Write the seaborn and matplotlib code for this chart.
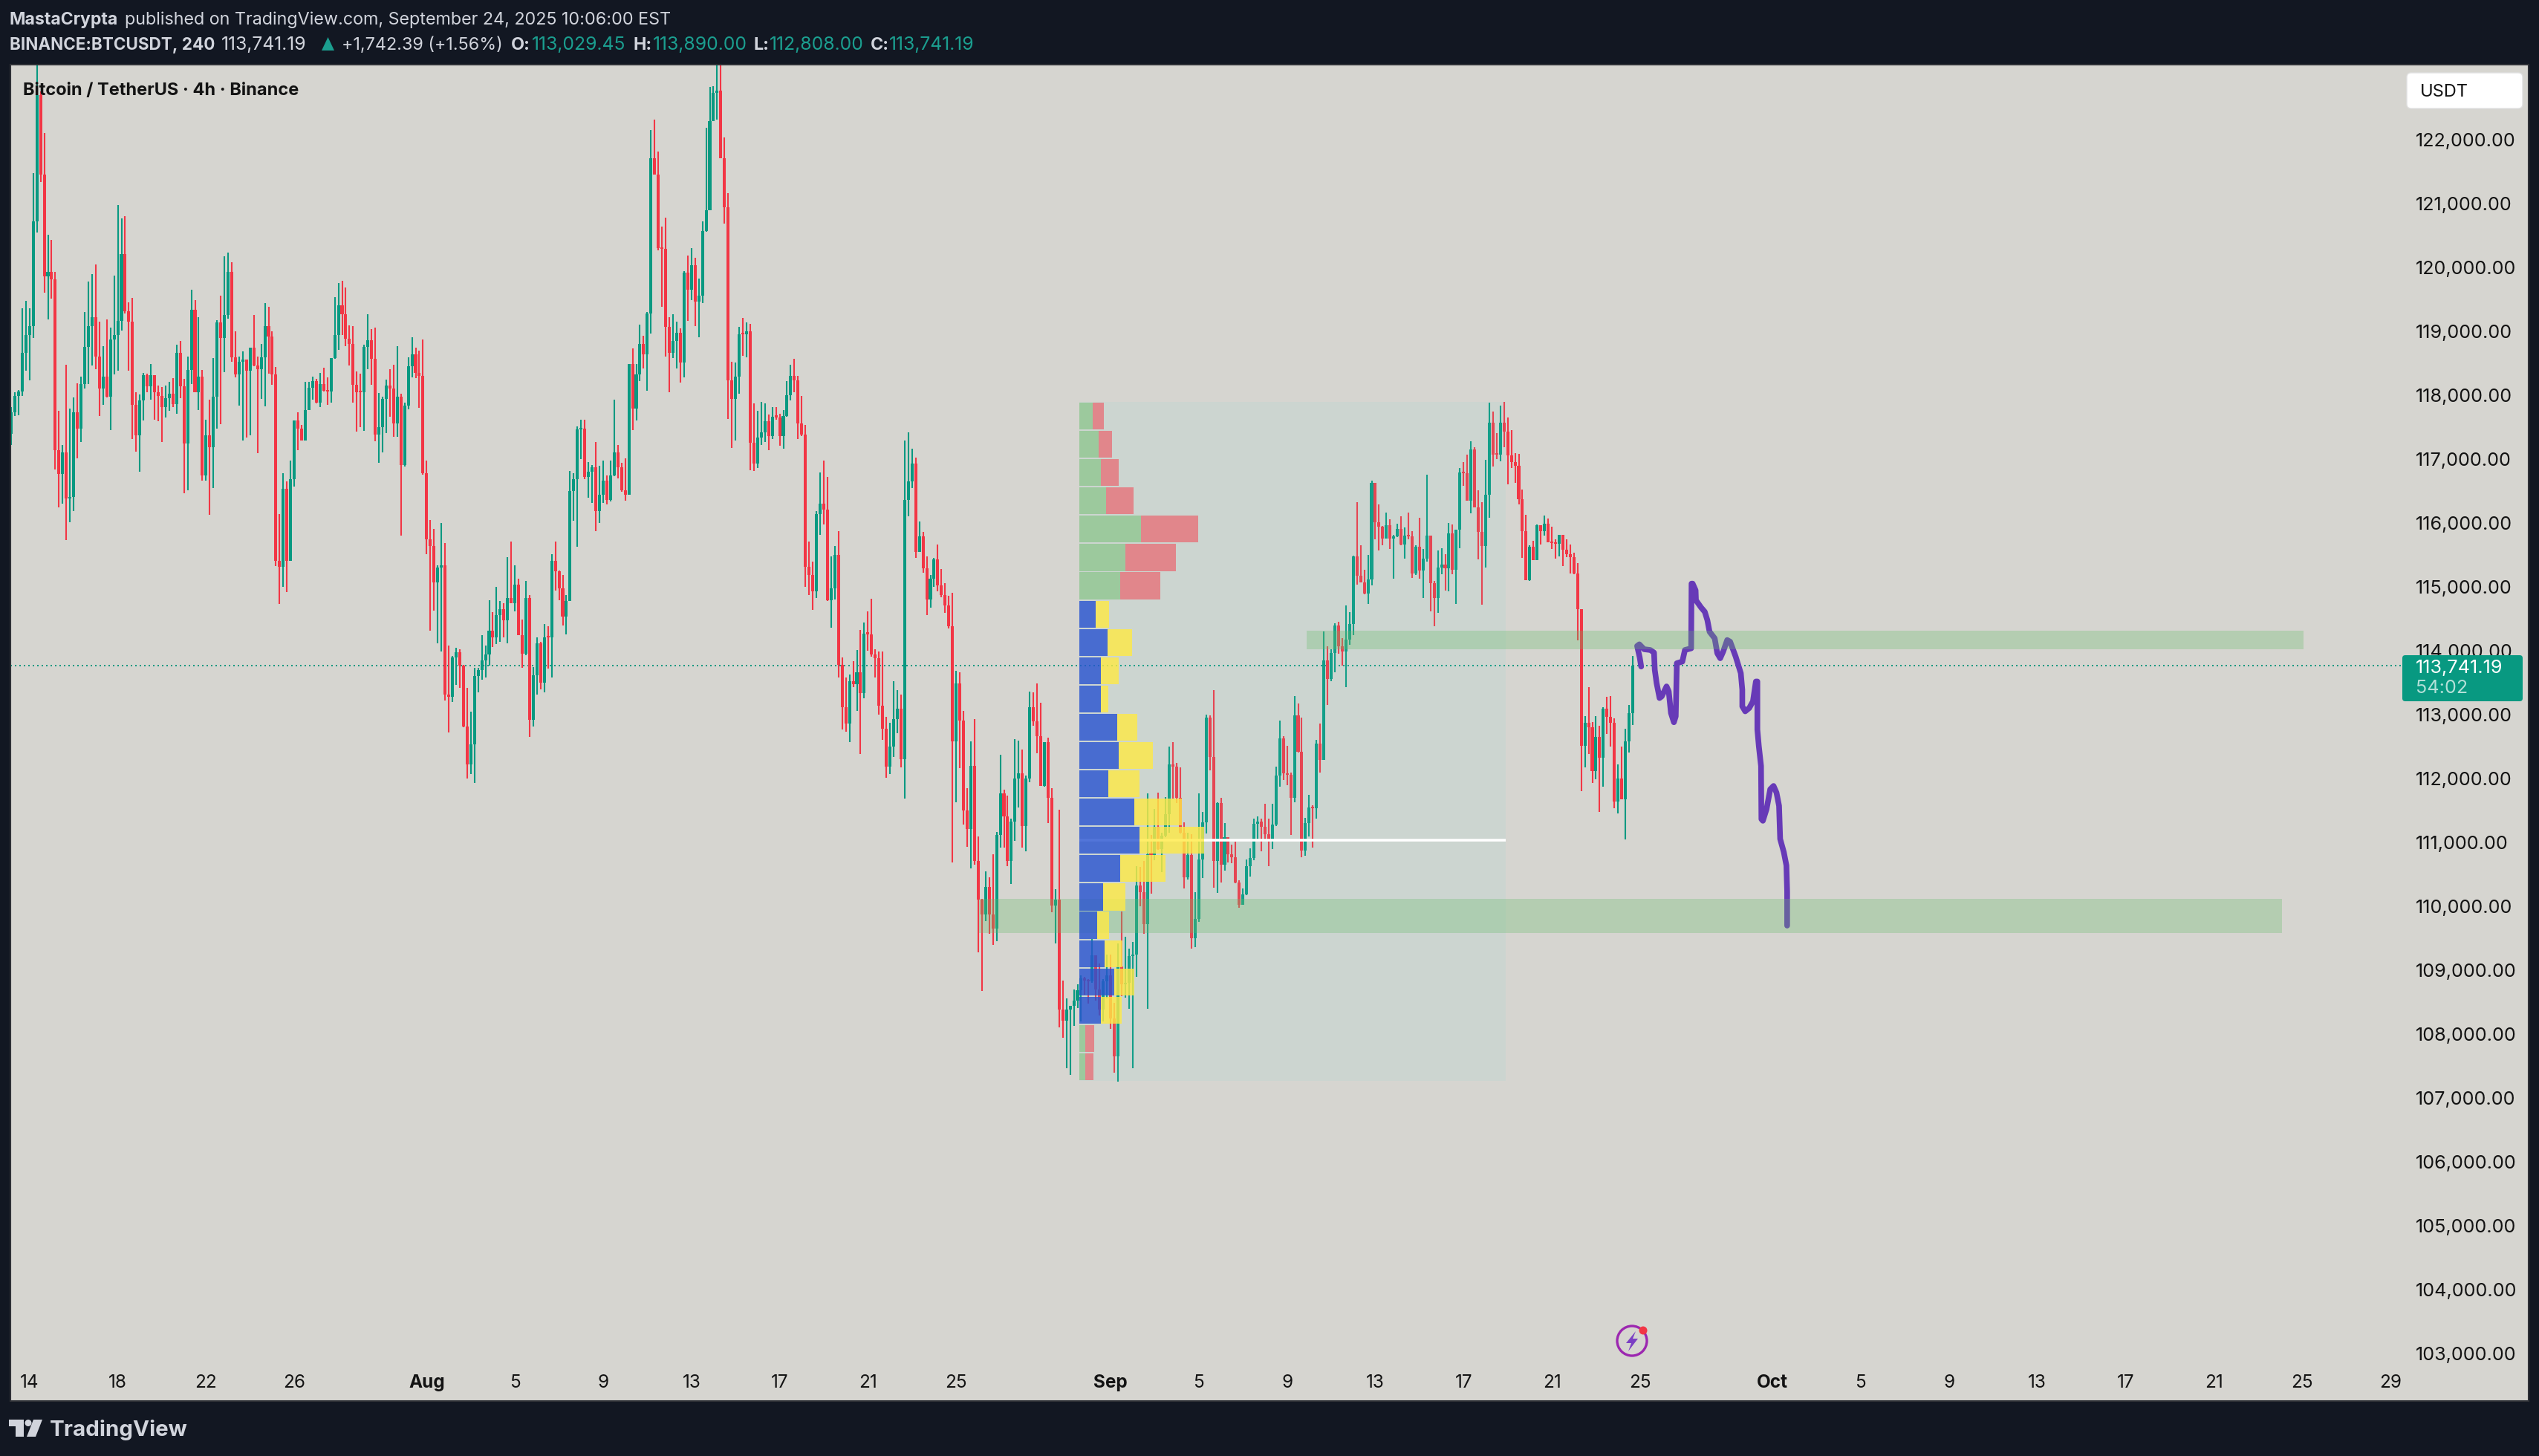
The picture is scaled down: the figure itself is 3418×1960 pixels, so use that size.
import matplotlib
matplotlib.use("Agg")
import matplotlib.pyplot as plt
import seaborn as sns
import numpy as np
import pandas as pd
from matplotlib.patches import Rectangle, Polygon, Ellipse, FancyBboxPatch
from matplotlib.transforms import Affine2D

# ---------- data ----------
first_open = 117377
closes = [
117714,117965,118037,118639,118924,119054,120702,122669,121425,119840,119907,119791,117112,116740,117078,116355,116379,117714,117449,118153,
118731,119054,119199,118582,118080,118273,117955,118847,118924,119136,120187,119285,119126,117825,117343,117897,118292,118114,118292,118018,
117970,117791,117931,117994,117839,118639,118114,117222,118369,119319,118027,118273,116726,117343,117165,117955,119117,118871,119237,119912,
118572,118307,118500,118533,118355,118717,118442,118379,118572,119054,118900,118307,115384,115290,116509,115384,116668,117584,117449,117271,
117743,118091,118197,117866,118148,118042,118035,118556,118923,119381,119240,118866,118782,118134,118028,118021,118733,118838,118542,117359,
117478,117915,118127,118084,117535,117957,116879,117809,118430,118620,118324,118275,116752,115724,115611,115047,115279,115315,113285,113257,
113877,113948,113743,112792,112193,112510,113581,113673,113828,113919,114286,114180,114540,114624,114448,114800,114723,115012,114215,113933,
114800,112890,113588,114096,113476,114187,114180,115378,115223,114955,114511,114751,116478,116661,117436,117450,116703,116780,116844,116164,
116413,116641,116335,116719,117083,116849,116491,116418,118463,117768,118297,118780,118619,119258,121683,121434,120277,120265,119049,118645,
118822,118951,118484,119891,119624,120010,119446,119535,120544,120870,122265,122709,122739,121683,120918,118212,117913,118266,118931,118925,
118977,117238,116901,117316,117394,117571,117342,117638,117633,117342,117654,117975,118282,118204,117529,117363,115287,115167,114907,116117,
116278,116190,114767,114954,115479,113750,113096,112836,113501,113449,113641,113314,114243,114238,113917,113857,113116,112756,112162,112475,
112909,113069,112282,116340,116627,116908,115526,115766,115266,114778,115105,115406,114999,114852,114685,114358,112555,113463,112883,111474,
111187,112175,110686,110079,109845,110279,109845,109632,111094,111741,111381,110686,111301,111975,112055,111234,111975,113089,112869,112642,
111861,112549,111674,109986,110079,108357,108183,108357,108417,108497,108664,108851,108811,108804,109211,108671,108357,108804,108897,108223,
107629,109035,108759,108777,109195,109222,110303,110201,109703,110793,110784,111216,110873,111082,111416,112195,112163,111669,111127,110428,
110784,109480,109778,110704,111287,112929,112319,110690,111594,110633,111060,110788,110744,110348,110001,110161,110606,110730,111269,111300,
111220,111104,111015,111255,112021,112604,112061,112034,111674,112964,112395,110846,111273,111522,111514,112519,112266,113826,113537,113937,
114366,114043,113961,114149,114395,115455,115152,115046,114872,115094,116603,115990,115918,115730,115942,115730,115769,115884,115634,115778,
115769,115185,115605,115234,115417,115778,115036,114800,115277,115325,115267,115812,115243,115870,116766,116757,116328,117128,116222,115836,
115614,116419,117547,117046,117041,117547,117407,117036,116930,116872,116347,115851,115079,115605,115390,115946,115847,115961,115670,115660,
115650,115790,115556,115484,115447,115183,114627,112493,112846,112784,112089,112623,112307,113075,112940,112846,111616,111974,111653,112556,
113002,113741]
highs = [
117791,118018,118056,119334,119449,119334,121454,123300,122727,122081,120486,120404,119907,117729,117198,118451,117762,117936,118162,118268,
119281,119753,119873,120018,119126,118741,119165,119035,119849,120958,120741,120780,119430,119502,118018,117984,118331,118317,118466,118292,
118124,118100,118129,118186,118244,118765,118828,118235,118582,119632,119464,119199,118369,117598,117912,118558,119150,119536,120153,120211,
120057,118977,118582,118668,118533,118717,119237,118582,118775,119415,119358,118972,118413,116114,116750,116630,116957,117584,117714,117511,
118186,118183,118267,118232,118324,118408,118253,118556,119508,119733,119768,119663,119071,119057,118345,118310,118768,119240,119014,119036,
118014,117957,118218,118380,118450,118747,117999,117866,118570,118880,118725,118676,118845,116950,116020,115879,115315,115977,115660,114060,
113891,114025,114004,113750,113391,113024,113708,113708,114222,114060,114765,114582,114977,114751,114715,115442,115681,115315,115103,114469,
115068,114850,113722,114187,114117,114392,114364,115484,115681,115230,115160,114850,116795,116752,117485,117591,117591,116935,116879,117244,
116875,116953,116719,116953,117908,117202,116916,116989,118463,118707,118463,119081,118910,119278,122128,122294,121790,120621,120751,119200,
119242,119128,119019,119921,120158,120277,120129,119802,120692,122158,122798,122810,123300,123300,122009,121137,118500,118489,119045,119185,
119117,119092,117851,117731,117872,117851,117674,117789,117789,117685,117747,118199,118453,118546,118282,117965,117513,115686,115375,116164,
116766,116953,116698,115453,115619,115847,113875,113558,113605,113812,113989,114300,114420,114591,114792,114004,113964,113964,112943,112849,
113497,113363,113290,117268,117395,117141,116994,115999,115840,115452,115165,115432,115639,115259,115032,114838,114885,113664,113637,113036,
111828,112555,112909,111067,110092,110520,110433,110793,111140,112348,111801,111708,111347,112596,112569,112429,112021,113336,113323,113463,
113163,112549,112616,111828,110246,111487,108811,108537,108417,108671,108757,108897,108877,108831,109465,109211,109078,108837,109218,109218,
108464,109400,109894,109498,109315,109418,110601,110593,110682,111745,111091,111505,111750,111127,111687,112475,112546,112217,112150,111291,
111127,111104,110201,111745,111451,112978,112964,113360,111603,111674,111273,111060,110940,110993,110383,110254,110708,110882,111349,111385,
111349,111580,111349,111580,112163,112889,112635,112488,112074,113267,113151,112929,111358,111718,111558,112582,112835,114284,114043,113995,
114405,114429,114173,114684,114583,115465,116304,115629,115243,115475,116641,116603,116265,115928,116140,116034,115793,115966,116082,115908,
116140,115851,115629,116058,115571,116733,115778,115070,115547,115581,115489,115971,115952,115870,116839,116930,117046,117253,117162,116487,
116304,116964,117861,117721,117383,117812,117870,117629,117432,117070,117056,116501,116106,115629,115696,115951,115946,116091,116044,115920,
115717,115790,115790,115722,115639,115509,115349,114627,112950,113402,112857,112950,112805,113096,113251,113262,112924,112193,112473,112753,
113132,113890]
lows = [
117198,117656,117666,117960,118355,118211,118876,120524,121319,119584,119165,119488,116813,116220,116273,115714,115993,116162,116991,117247,
118080,118153,118442,118389,117656,117825,117945,117425,118307,118355,118991,119257,118365,117285,117092,116779,117584,118018,117907,117598,
117569,117247,117622,117738,117791,117690,117931,116442,116490,118153,118027,117743,116644,116634,116099,116523,117454,117521,118341,119175,
118500,118259,117815,117271,117309,117353,118427,117068,117921,117801,118317,118138,115302,114709,114977,114895,115430,116548,117112,117271,
117271,117739,117901,117845,117795,118035,117831,117866,118549,118683,118923,118747,118443,117866,117401,117471,117422,118387,118134,117253,
116921,117076,117386,117640,117330,117330,115773,116858,117760,118260,118246,117781,116738,115484,114293,114610,114096,113969,113201,112700,
113179,113440,113398,112778,111977,112046,111907,113320,113518,113553,113743,114032,114081,114117,114180,114096,114716,114589,114215,113708,
113912,112630,112785,113285,113370,113320,113694,113553,114920,114765,114370,114230,114751,116012,115604,116978,116661,116372,116287,115847,
115977,116294,116268,116314,116709,116672,116465,116325,116418,117430,117581,118199,118396,118048,118941,121434,120247,119357,118578,118022,
118562,118396,118173,118254,119138,119464,119061,118883,119416,120532,120870,122265,122294,121683,120663,117607,117150,117269,118001,118593,
118572,116802,116787,116839,117197,117244,117119,117290,117591,117186,117140,117643,117898,118022,117290,117342,114975,114850,114617,114804,
115790,115956,114757,114336,114778,113558,112743,112712,112546,113407,113034,112359,113231,113978,113884,113557,112976,112582,111988,112048,
112315,112682,112148,111661,116080,116520,115432,115526,115199,114538,114651,114978,114905,114812,114571,114324,110660,111601,112142,111254,
110907,110566,110626,109258,108651,109745,109545,109372,109431,110893,110893,110606,110326,111000,111521,110893,110833,111921,112802,112369,
111861,111848,111280,109885,109392,108083,107916,107442,107336,108103,108384,108177,108590,108450,108777,108497,108270,108170,108537,108057,
107369,107233,108568,108546,108376,107442,108866,109978,109547,108376,110179,110699,110860,110512,111060,111127,111661,111594,111118,110254,
110397,109315,109338,109734,110419,111118,112106,110268,110188,110348,110535,110664,110650,110339,109952,110001,110152,110441,110695,111015,
110837,111015,110606,110873,111233,111847,111954,111870,111091,111603,112381,110744,110766,111069,110895,111349,112070,112269,113127,113498,
113638,113932,113744,113407,114072,114221,115012,115046,114862,114708,115002,115720,115547,115629,115730,115571,115104,115754,115629,115417,
115720,115118,115161,115104,114800,115373,114593,114361,114568,115176,114920,114906,115176,114708,115581,116559,116328,116125,116222,115407,
114699,115277,116058,116858,116978,116940,117162,116583,116839,116603,116265,115431,115079,115070,115390,115390,115639,115779,115670,115572,
115421,115452,115302,115442,115188,115172,114134,111777,112156,112364,111907,111959,111455,111850,112670,112478,111512,111429,111653,111024,
112385,112808]

last_price = 113741.19
poc_price = 111007
range_top = 117872
range_bottom = 107244
band_upper = (114291, 114000)
band_lower = (110093, 109558)

# volume profile rows, top to bottom
profile_up = [25,37,42,52,118,89,78,31,54,42,41,72,75,55,105,115,79,45,34,48,67,41,12,12]
profile_down = [22,25,33,52,110,96,77,26,47,33,14,39,66,60,91,124,86,44,23,34,38,40,16,15]

# hand-drawn forecast path: bar number, price
path_bar = [443.3,442.9,442.2,442.8,444.1,445.8,446.8,447.0,447.5,448.3,448.9,450.2,450.8,451.4,452.2,452.7,453.0,454.5,455.2,456.9,
457.0,457.3,458.1,458.2,459.6,460.6,461.3,461.9,463.3,464.0,464.8,465.6,466.7,467.5,469.0,470.4,470.8,470.8,471.6,472.7,473.7,474.5,474.9,
474.9,475.3,475.9,476.0,476.4,477.4,478.4,479.3,480.1,480.8,481.1,482.1,482.8,483.0,483.0]
path_price = [113729,113874,114051,114077,114000,113988,113947,113677,113469,113236,113262,113418,113340,113002,112857,112950,113781,113807,113988,114014,
115027,115027,114923,114767,114653,114586,114456,114274,114170,113937,113859,113963,114144,114118,113885,113625,113366,113106,113028,113080,113184,113495,113495,
112743,112483,112172,111341,111315,111497,111808,111860,111756,111549,111030,110822,110615,110209,109674]

y_ticks = list(range(103000, 123000, 1000))
x_tick_bars = [5,29,53,77,113,137,161,185,209,233,257,299,323,347,371,395,419,443,479,503,527,551,575,599,623,647]
x_tick_labels = ["14","18","22","26","Aug","5","9","13","17","21","25","Sep","5","9","13","17","21","25","Oct","5","9","13","17","21","25","29"]

# ---------- styling ----------
W, H = 3418, 1960
BG = "#d6d5d0"
DARK = "#121722"
GREEN = "#089981"
RED = "#f23645"
LIGHT = "#d1d4dc"
TEAL = "#1b9e8f"
INK = "#131313"
PURPLE = "#673ab7"

sns.set_theme(style="white")
plt.rcParams["font.family"] = ["Inter", "Roboto", "DejaVu Sans"]

fig = plt.figure(figsize=(W / 100, H / 100), dpi=100, facecolor=DARK)
L_, R_, T_, B_ = 14, 3404, 87, 1886
ax = fig.add_axes([L_ / W, 1 - B_ / H, (R_ - L_) / W, (B_ - T_) / H])
ax.set_facecolor(BG)
ax.set_axisbelow(True)

bar_step = 4.95
def bar_of(px):
    return (px - 15) / bar_step

ax.set_xlim(bar_of(L_), bar_of(R_))
ax.set_ylim(102232, 123151)
ax.grid(False)

# ---------- candles ----------
c = np.array(closes, dtype=float)
o = np.concatenate([[first_open], c[:-1]])
df = pd.DataFrame({"bar": np.arange(len(c)), "open": o, "close": c,
                   "high": highs, "low": lows})
df["color"] = np.where(df.close >= df.open, GREEN, RED)
df["base"] = df[["open", "close"]].min(axis=1)
df["size"] = (df.close - df.open).abs().clip(lower=25)

ax.hlines(last_price, bar_of(L_), bar_of(3234), color=GREEN, lw=1.44,
          linestyles=[(0, (1.0, 2.0))], zorder=1.5)
ax.vlines(df.bar, df.low, df.high, colors=df.color, lw=1.5, zorder=2)
ax.bar(df.bar, df["size"], bottom=df.base, width=0.82, color=df.color, linewidth=0, zorder=2.1)

# ---------- forecast path ----------
sns.lineplot(x=path_bar, y=path_price, sort=False, estimator=None, ax=ax, color=PURPLE,
             linewidth=5.5, solid_capstyle="round", solid_joinstyle="round", zorder=2.5)

# ---------- fixed range ----------
ax.add_patch(Rectangle((bar_of(1453), range_bottom), bar_of(2027) - bar_of(1453), range_top - range_bottom,
                       facecolor="#78d5d0", alpha=0.1, linewidth=0, zorder=3))
ax.hlines(poc_price, bar_of(1453), bar_of(2027), color="white", lw=2.6, zorder=3.5)

# ---------- supply / demand bands ----------
ax.add_patch(Rectangle((bar_of(1759), band_upper[1]), bar_of(3101) - bar_of(1759), band_upper[0] - band_upper[1],
                       facecolor="#68bb6b", alpha=0.3, linewidth=0, zorder=4))
ax.add_patch(Rectangle((bar_of(1318), band_lower[1]), bar_of(3072) - bar_of(1318), band_lower[0] - band_lower[1],
                       facecolor="#68bb6b", alpha=0.3, linewidth=0, zorder=4))

# ---------- volume profile ----------
n_rows = len(profile_up)
edges = np.linspace(range_top, range_bottom, n_rows + 1)
row_h = (range_top - range_bottom) / n_rows
centers = (edges[:-1] + edges[1:]) / 2
in_value_area = [7 <= i <= 21 for i in range(n_rows)]
vol_unit = 1 / (1.425 * bar_step)
x0 = bar_of(1453)
up_w = np.array(profile_up) * vol_unit
dn_w = np.array(profile_down) * vol_unit
ax.barh(centers, up_w, left=x0, height=row_h * 0.95, linewidth=0, alpha=0.8, zorder=5,
        color=["#2752d0" if v else "#90c791" for v in in_value_area])
ax.barh(centers, dn_w, left=x0 + up_w, height=row_h * 0.95, linewidth=0, alpha=0.8, zorder=5,
        color=["#ffea44" if v else "#e7737a" for v in in_value_area])

# ---------- axes ----------
ax.yaxis.tick_right()
ax.set_yticks(y_ticks)
ax.set_yticklabels([f"{v:,.2f}" for v in y_ticks], fontsize=18.1, color=INK)
ax.tick_params(axis="y", direction="in", length=0, pad=-(R_ - 3252) * 0.72)
for lab in ax.get_yticklabels():
    lab.set_transform(lab.get_transform() + Affine2D().translate(0, -2))
ax.set_xticks(x_tick_bars)
ax.set_xticklabels(x_tick_labels, fontsize=17.5, color=INK)
ax.tick_params(axis="x", direction="in", length=0, pad=-26)
for lab in ax.get_xticklabels():
    if lab.get_text() in ("Aug", "Sep", "Oct"):
        lab.set_fontweight("bold")
for s in ax.spines.values():
    s.set_color("#2e3036")
    s.set_linewidth(1.5)

# ---------- chrome in pixel coordinates ----------
px = Affine2D().scale(1, -1).translate(0, H)

def label(x, y, s, size=16.8, color=LIGHT, weight="normal", ha="left", z=6):
    fig.text(x, y, s, transform=px, fontsize=size, color=color, fontweight=weight,
             ha=ha, va="center", zorder=z)

label(13, 26.5, "MastaCrypta", size=16.6, weight="bold")
label(168, 26.5, "published on TradingView.com, September 24, 2025 10:06:00 EST")
label(13, 60.5, "BINANCE:BTCUSDT, 240", size=16.2, weight="bold")
label(298, 60.5, "113,741.19", size=17.8)
fig.add_artist(Polygon([(433, 68), (441.5, 50), (450, 68)], closed=True, transform=px,
                       facecolor=TEAL, edgecolor="none"))
label(460, 60.5, "+1,742.39 (+1.56%)")
for xa, ta, xb, tb in [(688, "O:", 716, "113,029.45"), (852, "H:", 879, "113,890.00"),
                       (1015, "L:", 1036, "112,808.00"), (1172, "C:", 1197, "113,741.19")]:
    label(xa, 60.5, ta, weight="bold")
    label(xb, 60.5, tb, size=17.8, color=TEAL)

label(31, 121.5, "Bitcoin / TetherUS · 4h · Binance", size=17, color=INK, weight="bold")

# price tag
fig.add_artist(FancyBboxPatch((3236, 884), 158, 58, boxstyle="round,pad=2,rounding_size=4",
                              transform=px, facecolor=GREEN, edgecolor="none", zorder=2))
label(3252, 899, "113,741.19", size=18.1, color="white")
label(3252, 926, "54:02", size=18.1, color="#b3e0d8")

# currency button
fig.add_artist(FancyBboxPatch((3242, 100), 152, 44, boxstyle="round,pad=2,rounding_size=6",
                              transform=px, facecolor="white", edgecolor="#e0e0e0", zorder=2))
label(3258, 123.5, "USDT", size=17, color=INK)

# news icon
fig.add_artist(Ellipse((2197, 1805), 40, 40, transform=px, facecolor=BG, edgecolor="#9c27b0", lw=2.4, zorder=2))
fig.add_artist(Polygon([(2202, 1792), (2189, 1808), (2196, 1808), (2192, 1819), (2205, 1802), (2198, 1802)],
                       closed=True, transform=px, facecolor="#7b3fc4", edgecolor="none", zorder=2))
fig.add_artist(Ellipse((2212, 1791), 11, 11, transform=px, facecolor="#f23645", edgecolor="none", zorder=2))

# TradingView logo
fig.add_artist(Polygon([(12, 1911), (32, 1911), (32, 1934), (21, 1934), (21, 1920), (12, 1920)],
                       closed=True, transform=px, facecolor=LIGHT, edgecolor="none"))
fig.add_artist(Ellipse((38, 1915.5), 9, 9, transform=px, facecolor=LIGHT, edgecolor="none"))
fig.add_artist(Polygon([(45, 1911), (57, 1911), (48, 1934), (36, 1934)],
                       closed=True, transform=px, facecolor=LIGHT, edgecolor="none"))
label(67, 1925, "TradingView", size=21.3, weight="bold")

fig.savefig("out.png", dpi=100, facecolor=DARK)
